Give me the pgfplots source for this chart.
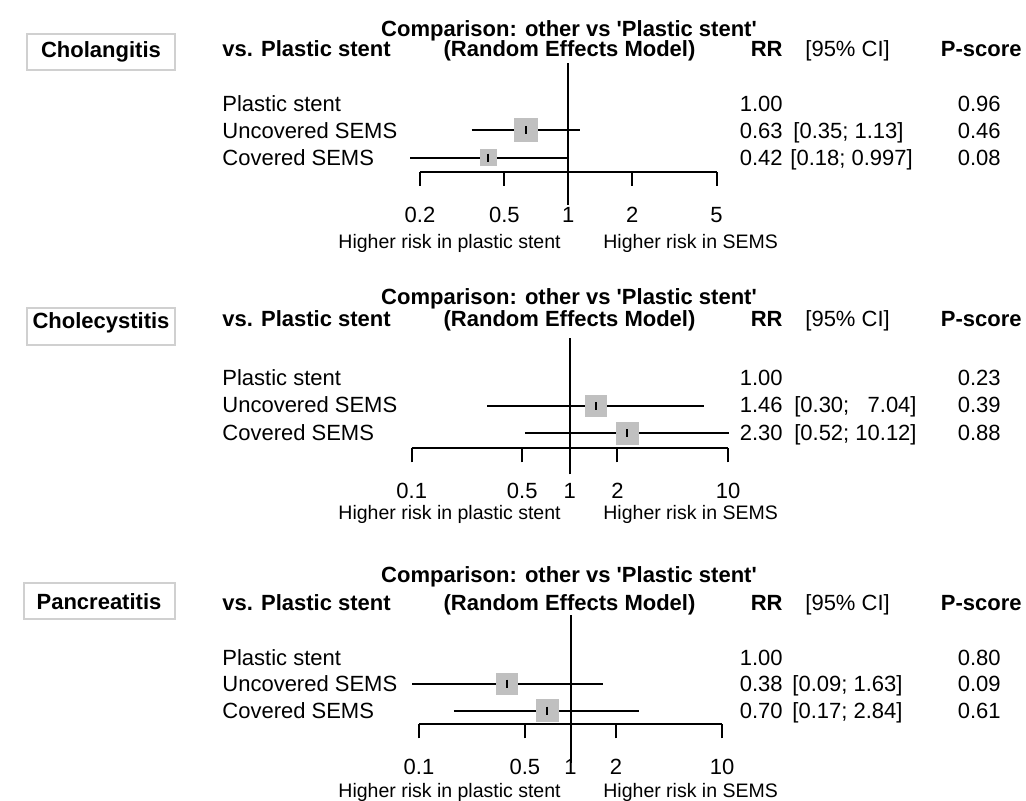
\documentclass[border=0pt]{standalone}
\usepackage{pgfplots}
\pgfplotsset{compat=1.18}
\usepackage{fontspec}
\setmainfont{Liberation Sans}[Ligatures=TeXOff]
\newcommand{\fs}{\fontsize{11pt}{13pt}\selectfont}
\newcommand{\fss}{\fontsize{9.75pt}{12pt}\selectfont}
\definecolor{sq}{HTML}{C0C0C0}
\definecolor{boxc}{HTML}{D0D0D0}
\pgfplotsset{
  /pgfplots/myforest/.style={
    scale only axis, clip=false,
    axis x line*=bottom, axis y line=none,
    ymin=0, ymax=100, height=50pt,
    xtick align=outside, major tick length=7pt,
    minor xtick={},
    every tick/.style={black, line width=1pt},
    axis line style={black, line width=1pt},
    xticklabel style={font=\fs, anchor=base, yshift=-18.25pt},
    anchor=south west,
  },
  /pgfplots/ci/.style={black, line width=1pt, no marks},
  /pgfplots/sqm/.style={only marks, mark=square*, color=sq, mark options={color=sq, draw opacity=0}},
  /pgfplots/est/.style={only marks, mark=|, mark size=2pt, color=black, mark options={black, line width=0.9pt}},
}
\tikzset{txt/.style={inner sep=0pt, font=\fs}, btxt/.style={inner sep=0pt, font=\fs\bfseries},
  stxt/.style={inner sep=0pt, font=\fss}}
\begin{document}
\begin{tikzpicture}
\path[use as bounding box] (0pt,0pt) rectangle (513pt,-400pt);

% ---------------- Panel 1: Cholangitis ----------------
\begin{axis}[xmode=log, myforest, at={(210pt,-85.75pt)}, width=148.3pt, xmin=0.2, xmax=5,
  xtick={0.2,0.5,1,2,5}, xticklabels={0.2,0.5,1,2,5}]
\addplot[ci] coordinates {(1,-33.5) (1,108.5)};
\addplot[ci] coordinates {(0.35,41.5) (1.13,41.5)};
\addplot[ci] coordinates {(0.18,14) (0.997,14)};
\addplot[sqm, mark size=6pt] coordinates {(0.63,41.5)};
\addplot[sqm, mark size=4.25pt] coordinates {(0.42,14)};
\addplot[est] coordinates {(0.63,41.5) (0.42,14)};
\end{axis}

% ---------------- Panel 2: Cholecystitis ----------------
\begin{axis}[xmode=log, myforest, at={(205.85pt,-224.15pt)}, width=158.15pt, xmin=0.1, xmax=10,
  xtick={0.1,0.5,1,2,10}, xticklabels={0.1,0.5,1,2,10}]
\addplot[ci] coordinates {(1,-26) (1,110.3)};
\addplot[ci] coordinates {(0.30,42.3) (7.04,42.3)};
\addplot[ci] coordinates {(0.52,15.3) (10.12,15.3)};
\addplot[sqm, mark size=5.5pt] coordinates {(1.46,42.3)};
\addplot[sqm, mark size=5.75pt] coordinates {(2.30,15.3)};
\addplot[est] coordinates {(1.46,42.3) (2.30,15.3)};
\end{axis}

% ---------------- Panel 3: Pancreatitis ----------------
\begin{axis}[xmode=log, myforest, at={(209.5pt,-362.15pt)}, width=151.5pt, xmin=0.1, xmax=10,
  xtick={0.1,0.5,1,2,10}, xticklabels={0.1,0.5,1,2,10}]
\addplot[ci] coordinates {(1,-38.7) (1,109.3)};
\addplot[ci] coordinates {(0.09,40.8) (1.63,40.8)};
\addplot[ci] coordinates {(0.17,13.8) (2.84,13.8)};
\addplot[sqm, mark size=5.5pt] coordinates {(0.38,40.8)};
\addplot[sqm, mark size=5.75pt] coordinates {(0.70,13.8)};
\addplot[est] coordinates {(0.38,40.8) (0.70,13.8)};
\end{axis}

\begin{scope}[x=0.5pt, y=-0.5pt]
% Panel 1 text
\draw[boxc, line width=0.6pt] (27,34) rectangle (175,70);
\node[btxt, anchor=base] at (101,57.5) {Cholangitis};
\node[btxt, anchor=base] at (569,36.3) {Comparison: other vs 'Plastic stent'};
\node[btxt, anchor=base west] at (222,56.7) {vs. Plastic stent};
\node[btxt, anchor=base] at (569.5,56.7) {(Random Effects Model)};
\node[btxt, anchor=base east] at (783,56.7) {RR};
\node[txt, anchor=base west] at (805,56.7) {[95\% CI]};
\node[btxt, anchor=base east] at (1022,56.7) {P-score};
\node[txt, anchor=base west] at (222,111.7) {Plastic stent};
\node[txt, anchor=base west] at (222,138.3) {Uncovered SEMS};
\node[txt, anchor=base west] at (222,165) {Covered SEMS};
\node[txt, anchor=base east] at (783,111.7) {1.00};
\node[txt, anchor=base east] at (783,138.3) {0.63};
\node[txt, anchor=base east] at (783,165) {0.42};
\node[txt, anchor=base west] at (793,138.3) {[0.35; 1.13]};
\node[txt, anchor=base west] at (790,165) {[0.18; 0.997]};
\node[txt, anchor=base east] at (1001,111.7) {0.96};
\node[txt, anchor=base east] at (1001,138.3) {0.46};
\node[txt, anchor=base east] at (1001,165) {0.08};
\node[stxt, anchor=base east] at (561,248.7) {Higher risk in plastic stent};
\node[stxt, anchor=base west] at (603,248.7) {Higher risk in SEMS};
% Panel 2 text
\draw[boxc, line width=0.6pt] (27,308) rectangle (175,345);
\node[btxt, anchor=base] at (101,328.5) {Cholecystitis};
\node[btxt, anchor=base] at (569,304) {Comparison: other vs 'Plastic stent'};
\node[btxt, anchor=base west] at (222,326.7) {vs. Plastic stent};
\node[btxt, anchor=base] at (569.5,326.7) {(Random Effects Model)};
\node[btxt, anchor=base east] at (783,326.7) {RR};
\node[txt, anchor=base west] at (805,326.7) {[95\% CI]};
\node[btxt, anchor=base east] at (1022,326.7) {P-score};
\node[txt, anchor=base west] at (222,385) {Plastic stent};
\node[txt, anchor=base west] at (222,412.5) {Uncovered SEMS};
\node[txt, anchor=base west] at (222,440.5) {Covered SEMS};
\node[txt, anchor=base east] at (783,385) {1.00};
\node[txt, anchor=base east] at (783,412.5) {1.46};
\node[txt, anchor=base east] at (783,440.5) {2.30};
\node[txt, anchor=base east] at (917,412.5) {[0.30; \phantom{1}7.04]};
\node[txt, anchor=base east] at (917,440.5) {[0.52; 10.12]};
\node[txt, anchor=base east] at (1001,385) {0.23};
\node[txt, anchor=base east] at (1001,412.5) {0.39};
\node[txt, anchor=base east] at (1001,440.5) {0.88};
\node[stxt, anchor=base east] at (561,519) {Higher risk in plastic stent};
\node[stxt, anchor=base west] at (603,519) {Higher risk in SEMS};
% Panel 3 text
\draw[boxc, line width=0.6pt] (24,583) rectangle (175,619);
\node[btxt, anchor=base] at (99,609) {Pancreatitis};
\node[btxt, anchor=base] at (569,582.4) {Comparison: other vs 'Plastic stent'};
\node[btxt, anchor=base west] at (222,610) {vs. Plastic stent};
\node[btxt, anchor=base] at (569.5,610) {(Random Effects Model)};
\node[btxt, anchor=base east] at (783,610) {RR};
\node[txt, anchor=base west] at (805,610) {[95\% CI]};
\node[btxt, anchor=base east] at (1022,610) {P-score};
\node[txt, anchor=base west] at (222,665) {Plastic stent};
\node[txt, anchor=base west] at (222,691.7) {Uncovered SEMS};
\node[txt, anchor=base west] at (222,718.3) {Covered SEMS};
\node[txt, anchor=base east] at (783,665) {1.00};
\node[txt, anchor=base east] at (783,691.7) {0.38};
\node[txt, anchor=base east] at (783,718.3) {0.70};
\node[txt, anchor=base west] at (792,691.7) {[0.09; 1.63]};
\node[txt, anchor=base west] at (792,718.3) {[0.17; 2.84]};
\node[txt, anchor=base east] at (1001,665) {0.80};
\node[txt, anchor=base east] at (1001,691.7) {0.09};
\node[txt, anchor=base east] at (1001,718.3) {0.61};
\node[stxt, anchor=base east] at (561,797.4) {Higher risk in plastic stent};
\node[stxt, anchor=base west] at (603,797.4) {Higher risk in SEMS};
\end{scope}
\end{tikzpicture}
\end{document}
